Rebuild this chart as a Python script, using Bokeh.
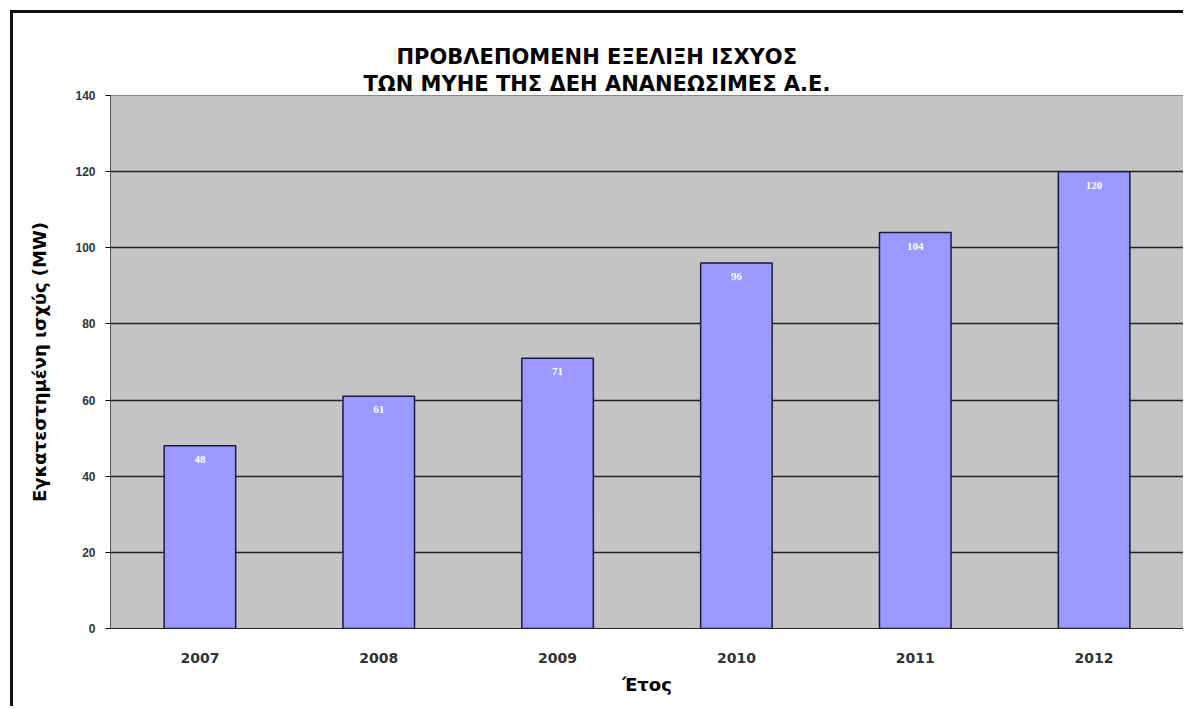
from bokeh.plotting import figure
from bokeh.models import (ColumnDataSource, FixedTicker, LabelSet, Range1d, Title,
                          LinearAxis)
from bokeh.embed import file_html
from bokeh.resources import INLINE

years = ["2007", "2008", "2009", "2010", "2011", "2012"]
power_mw = [48, 61, 71, 96, 104, 120]
value_labels = ["48", "61", "71", "96", "104", "120"]
y_ticks = [0, 20, 40, 60, 80, 100, 120, 140]

title_line1 = "ΠΡΟΒΛΕΠΟΜΕΝΗ ΕΞΕΛΙΞΗ ΙΣΧΥΟΣ"
title_line2 = "ΤΩΝ ΜΥΗΕ ΤΗΣ ΔΕΗ ΑΝΑΝΕΩΣΙΜΕΣ Α.Ε."
x_label = "Έτος"
y_label = "Εγκατεστημένη ισχύς (MW)"

src = ColumnDataSource(dict(x=years, y=power_mw, lab=value_labels))

p = figure(x_range=years, y_range=Range1d(0, 140), width=1173, height=696,
           output_backend="svg", toolbar_location=None,
           min_border_left=97, min_border_right=3, min_border_top=82,
           min_border_bottom=81)
p.margin = (10, 0, 0, 10)
p.styles = {"border-top": "3px solid #111", "border-left": "3px solid #111"}

p.background_fill_color = "#c4c4c4"
p.border_fill_color = "white"
p.outline_line_color = "#888888"

p.vbar(x="x", top="y", width=0.4, source=src, fill_color="#9999ff",
       line_color="#1a1a40", line_width=1.5)

labels = LabelSet(x="x", y="y", text="lab", source=src, text_color="white",
                  text_font_size="11px", text_font_style="bold",
                  text_font="DejaVu Sans", text_align="center",
                  text_baseline="top", y_offset=-10)
p.add_layout(labels)

p.yaxis.ticker = FixedTicker(ticks=y_ticks)
p.ygrid.ticker = FixedTicker(ticks=y_ticks[1:-1])
p.ygrid.grid_line_color = "#222222"
p.ygrid.grid_line_width = 1.5
p.xgrid.grid_line_color = None

p.yaxis.major_label_text_font = "Liberation Sans"
p.yaxis.major_label_text_font_style = "bold"
p.yaxis.major_label_text_font_size = "12px"
p.yaxis.major_label_text_color = "#333333"
p.yaxis.axis_line_color = "#555555"
p.yaxis.major_tick_in = 0
p.yaxis.major_tick_out = 5
p.yaxis.minor_tick_line_color = None
p.yaxis.major_label_standoff = 10
p.yaxis.axis_label = y_label
p.yaxis.axis_label_text_font = "DejaVu Sans"
p.yaxis.axis_label_text_font_style = "bold"
p.yaxis.axis_label_text_font_size = "18px"
p.yaxis.axis_label_text_color = "black"
p.yaxis.axis_label_standoff = 22

p.xaxis.major_label_text_font = "DejaVu Sans"
p.xaxis.major_label_text_font_style = "bold"
p.xaxis.major_label_text_font_size = "14px"
p.xaxis.major_label_text_color = "#333333"
p.xaxis.axis_label = x_label
p.xaxis.axis_label_text_font = "DejaVu Sans"
p.xaxis.axis_label_text_font_style = "bold"
p.xaxis.axis_label_text_font_size = "18px"
p.xaxis.axis_label_text_color = "black"
p.xaxis.major_tick_line_color = None
p.xaxis.major_label_standoff = 18
p.xaxis.axis_label_standoff = 8
p.xaxis.axis_line_color = "#222222"

# invisible spacer between frame and title lines (no ticks, no labels)
spacer = LinearAxis(ticker=FixedTicker(ticks=[], minor_ticks=[]),
                    axis_line_color=None, major_tick_line_color=None,
                    minor_tick_line_color=None, major_tick_in=0, major_tick_out=25,
                    minor_tick_in=0, minor_tick_out=0, major_label_standoff=0)
p.add_layout(spacer, "above")

# two-line chart title (second line is closer to the frame)
t2 = Title(text=title_line2, align="left", offset=253, standoff=0,
           text_font="DejaVu Sans", text_font_style="bold",
           text_font_size="21px", text_color="black")
t1 = Title(text=title_line1, align="left", offset=286, standoff=2,
           text_font="DejaVu Sans", text_font_style="bold",
           text_font_size="21px", text_color="black")
p.add_layout(t2, "above")
p.add_layout(t1, "above")

open("out.html", "w").write(file_html(p, INLINE))
